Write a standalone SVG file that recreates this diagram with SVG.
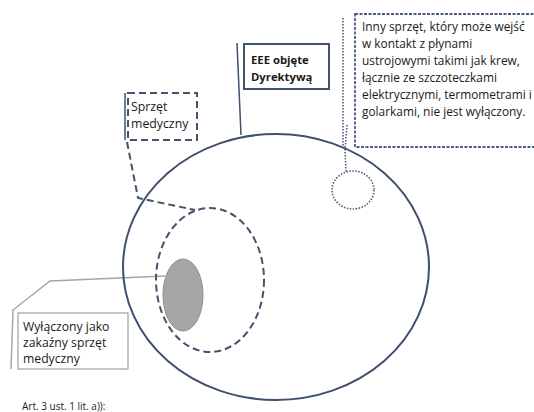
<svg xmlns="http://www.w3.org/2000/svg" width="534" height="412" viewBox="0 0 534 412">
<style>
.t{font-family:"Open Sans","Liberation Sans",sans-serif;fill:#1a1a1a}
.navy{stroke:#3f4f6e;fill:none}
.dash{stroke:#44546a;fill:none;stroke-width:2;stroke-dasharray:7 4}
.dot{stroke:#4a5d80;fill:none;stroke-width:1.6;stroke-dasharray:1.5 1.5}
.gray{stroke:#a6a6a6;fill:none;stroke-width:1.5}
</style>
<rect width="534" height="412" fill="#fff"/>
<g id="connectors">
<line class="navy" x1="237" y1="43" x2="241" y2="135" stroke-width="1.5"/>
<polyline class="dash" points="127,142 138,198 195,210"/>
<line class="navy" x1="125" y1="93" x2="125" y2="140" stroke-width="1.5"/>
<line class="dot" x1="343" y1="18" x2="343" y2="147"/>
<polyline class="dot" points="347,125 345,150 346,172"/>
<polyline class="gray" points="165,276 50,281 13,310 11,369"/>
</g>
<g id="eee-ellipse">
<ellipse class="navy" cx="276" cy="267" rx="153" ry="133" stroke-width="2"/>
</g>
<g id="medical-circle">
<ellipse class="dash" cx="210" cy="280" rx="54" ry="72"/>
</g>
<g id="infectious-ellipse">
<ellipse cx="183" cy="295" rx="20" ry="36" fill="#a6a6a6" stroke="#8e8e8e" stroke-width="1"/>
</g>
<g id="other-circle">
<ellipse class="dot" cx="353" cy="190" rx="21" ry="19"/>
</g>
<g id="eee-label">
<rect x="244" y="44" width="85" height="45" fill="#fff" stroke="#44546a" stroke-width="2"/>
<text class="t" x="251" y="64" font-size="11.3" font-weight="bold">EEE objęte</text>
<text class="t" x="251" y="81" font-size="11.3" font-weight="bold">Dyrektywą</text>
</g>
<g id="medical-label">
<rect class="dash" x="128" y="93" width="69" height="47" stroke-dasharray="5 4" fill="#fff"/>
<text class="t" x="131" y="111" font-size="12.3">Sprzęt</text>
<text class="t" x="131" y="128" font-size="12.3">medyczny</text>
</g>
<g id="other-label">
<rect x="355" y="14" width="190" height="133" fill="#fff" stroke="#4a5d80" stroke-width="1.8" stroke-dasharray="3 1.5"/>
<text class="t" font-size="11.9">
<tspan x="362" y="31">Inny sprzęt, który może wejść</tspan>
<tspan x="362" y="48">w kontakt z płynami</tspan>
<tspan x="362" y="65">ustrojowymi takimi jak krew,</tspan>
<tspan x="362" y="82">łącznie ze szczoteczkami</tspan>
<tspan x="362" y="99">elektrycznymi, termometrami i</tspan>
<tspan x="362" y="116">golarkami, nie jest wyłączony.</tspan>
</text>
</g>
<g id="infectious-label">
<rect x="18" y="313" width="110" height="56" fill="#fff" stroke="#a0a0a0" stroke-width="1.2"/>
<text class="t" font-size="12.2">
<tspan x="23" y="331">Wyłączony jako</tspan>
<tspan x="23" y="347">zakaźny sprzęt</tspan>
<tspan x="23" y="363">medyczny</tspan>
</text>
</g>
<text class="t" x="22" y="410" font-size="10">Art. 3 ust. 1 lit. a)):</text>
</svg>
